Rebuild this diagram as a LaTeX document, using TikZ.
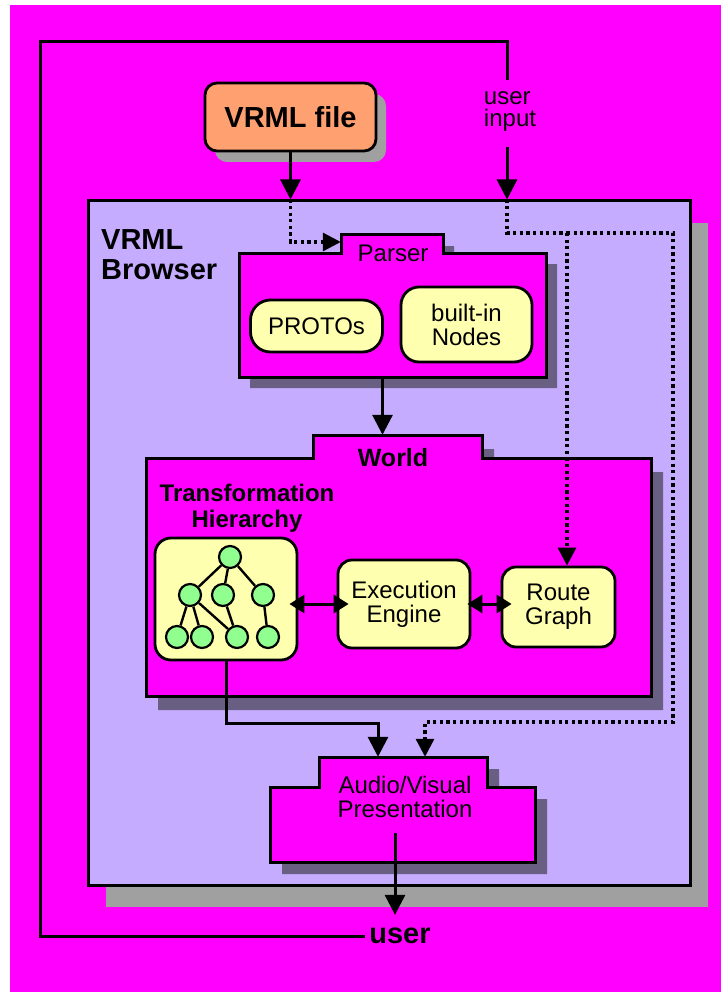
\documentclass[tikz,border=0pt]{standalone}
\usepackage{fontspec}
\setmainfont{Liberation Sans}
\usetikzlibrary{arrows.meta,positioning}

\definecolor{bgmag}{RGB}{255,0,255}
\definecolor{lavender}{RGB}{197,172,255}
\definecolor{filebox}{RGB}{255,160,112}
\definecolor{paleyellow}{RGB}{255,255,176}
\definecolor{nodegreen}{RGB}{144,255,144}
\definecolor{dropgray}{RGB}{160,160,160}
\definecolor{dithergray}{RGB}{105,95,130}

\newcommand{\bigboldfont}{\fontsize{29}{30}\selectfont\bfseries}
\newcommand{\midboldfont}{\fontsize{24}{26}\selectfont\bfseries}
\newcommand{\plainfont}{\fontsize{24}{24}\selectfont}
\newcommand{\tightfont}{\fontsize{24}{22}\selectfont}

\begin{document}
\begin{tikzpicture}[x=1pt,y=-1pt,line join=miter,
  wire/.style={line width=3pt},
  arr/.style={wire,-{Triangle[width=20pt,length=20pt]}},
  dblarr/.style={wire,{Triangle[width=18pt,length=15pt]}-{Triangle[width=18pt,length=15pt]}},
  dots/.style={line width=3.2pt,dash pattern=on 3.2pt off 3.4pt},
  dotarr/.style={dots,-{Triangle[width=18pt,length=18pt]}},
  softbox/.style={draw,line width=2.8pt,fill=paleyellow,rounded corners=14pt,inner sep=0pt,align=center,font=\plainfont},
  folder/.style={draw,line width=3pt,fill=bgmag},
  place/.style={inner sep=0pt},
  treenode/.style={circle,draw,line width=2.2pt,fill=nodegreen,minimum size=22pt,inner sep=0pt},
  treeedge/.style={line width=2.4pt}]
\useasboundingbox (0,0) rectangle (721,992);
\fill[white] (0,0) rectangle (721,992);
\fill[bgmag] (10,5) rectangle (721,992);

% user and user input
\node[font=\bigboldfont,inner xsep=4pt,inner ysep=13pt] (user) at (400,936) {user};
\node[font=\tightfont,align=left] (userinput) at (510,112) {user\\input};
\coordinate (uitop) at (507,80);
\coordinate (uibot) at (507,147);
\draw[wire] (user.west) -| (40,42) -| (uitop);

% VRML file
\fill[dropgray,rounded corners=12pt] (215,94) rectangle (386,162);
\node[draw,line width=2.8pt,fill=filebox,rounded corners=12pt,minimum width=171pt,minimum height=68pt,
  inner sep=0pt,font=\bigboldfont] (vrmlfile) at (290.5,117) {VRML file};

% browser
\fill[dropgray] (106,223) rectangle (708,907);
\node[draw,line width=3pt,fill=lavender,minimum width=602pt,minimum height=684pt,inner sep=0pt] (browser) at (389,543) {};
\node[font=\bigboldfont,align=left,anchor=north west,inner sep=0pt] (browserlabel) at (101,229) {VRML\\Browser};

% parser
\fill[dithergray,shift={(11,11)}] (239,253) -- (341,253) -- (341,235) -- (443,235) -- (443,253) -- (546,253) -- (546,377) -- (239,377) -- cycle;
\draw[folder] (239,253) -- (341,253) -- (341,235) -- (443,235) -- (443,253) -- (546,253) -- (546,377) -- (239,377) -- cycle;
\node[place,minimum width=307pt,minimum height=124pt] (parser) at (392.5,315) {};
\node[place,minimum width=102pt,minimum height=18pt] (parsertab) at (392,242) {};
\node[place,font=\plainfont] (parserlabel) at (393,253) {Parser};
\node[softbox,rounded corners=20pt,minimum width=132pt,minimum height=52pt] (protos) at (316.5,326) {PROTOs};
\node[softbox,rounded corners=18pt,minimum width=131pt,minimum height=75pt] (builtin) at (466.5,324.5) {built-in\\Nodes};

% world
\fill[dithergray,shift={(12,14)}] (146,458) -- (313,458) -- (313,435) -- (482,435) -- (482,458) -- (651,458) -- (651,696) -- (146,696) -- cycle;
\draw[folder] (146,458) -- (313,458) -- (313,435) -- (482,435) -- (482,458) -- (651,458) -- (651,696) -- (146,696) -- cycle;
\node[place,minimum width=505pt,minimum height=238pt] (world) at (398.5,577) {};
\node[place,minimum width=169pt,minimum height=23pt] (worldtab) at (397.5,446.5) {};
\node[place,font=\fontsize{25}{26}\selectfont\bfseries] (worldlabel) at (393,458) {World};
\node[place,font=\midboldfont,align=center] (translabel) at (247,508) {Transformation\\Hierarchy};

% transformation hierarchy
\node[softbox,rounded corners=16pt,minimum width=142pt,minimum height=122pt] (tree) at (226,599) {};
\node[treenode] (t0) at (230,557) {};
\node[treenode] (t1) at (190,595) {};
\node[treenode] (t2) at (223,595) {};
\node[treenode] (t3) at (263,595) {};
\node[treenode] (t4) at (177,637) {};
\node[treenode] (t5) at (202,637) {};
\node[treenode] (t6) at (237,637) {};
\node[treenode] (t7) at (268,637) {};
\foreach \a/\b in {t0/t1,t0/t2,t0/t3,t1/t4,t1/t5,t1/t6,t2/t6,t3/t7}
  \draw[treeedge] (\a) -- (\b);

\node[softbox,minimum width=132pt,minimum height=88pt] (exec) at (404,604) {Execution\\Engine};
\node[softbox,minimum width=113pt,minimum height=80pt] (route) at (558.5,607) {Route\\Graph};

% audio/visual presentation
\fill[dithergray,shift={(12,12)}] (270,787) -- (319,787) -- (319,757) -- (487,757) -- (487,787) -- (535,787) -- (535,862) -- (270,862) -- cycle;
\draw[folder] (270,787) -- (319,787) -- (319,757) -- (487,757) -- (487,787) -- (535,787) -- (535,862) -- (270,862) -- cycle;
\node[place,minimum width=265pt,minimum height=75pt] (av) at (402.5,824.5) {};
\node[place,minimum width=168pt,minimum height=30pt] (avtab) at (403,772) {};
\node[place,font=\plainfont,align=center] (avlabel) at (405,797) {Audio/Visual\\Presentation};
\coordinate (avout) at (395,833);

% connectors
\draw[arr] (vrmlfile.south) -- (vrmlfile.south |- browser.north);
\draw[dotarr] (vrmlfile.south |- browser.north) |- (parsertab.west);
\draw[arr] (uibot) -- (uibot |- browser.north);
\coordinate (uisplit) at (567,233);
\coordinate (uicorner) at (673,722);
\draw[dots] (uibot |- browser.north) |- (uisplit);
\draw[dotarr] (uisplit) -- (uisplit |- route.north);
\draw[dotarr] (uisplit) -| (uicorner) -| ([xshift=22pt]avtab.north);
\draw[arr] ([xshift=-10pt]parser.south) -- ([xshift=-15pt]worldtab.north);
\draw[dblarr] ([xshift=-9pt]tree.east |- exec.west) -- ([xshift=12pt]exec.west);
\draw[dblarr] ([xshift=-4pt]exec.east) -- ([xshift=11pt]exec.east -| route.west);
\draw[arr] (tree.south) -- ++(0,62) -| ([xshift=-25pt]avtab.north);
\draw[arr] (avout) -- (avout |- user.north);
\end{tikzpicture}
\end{document}
